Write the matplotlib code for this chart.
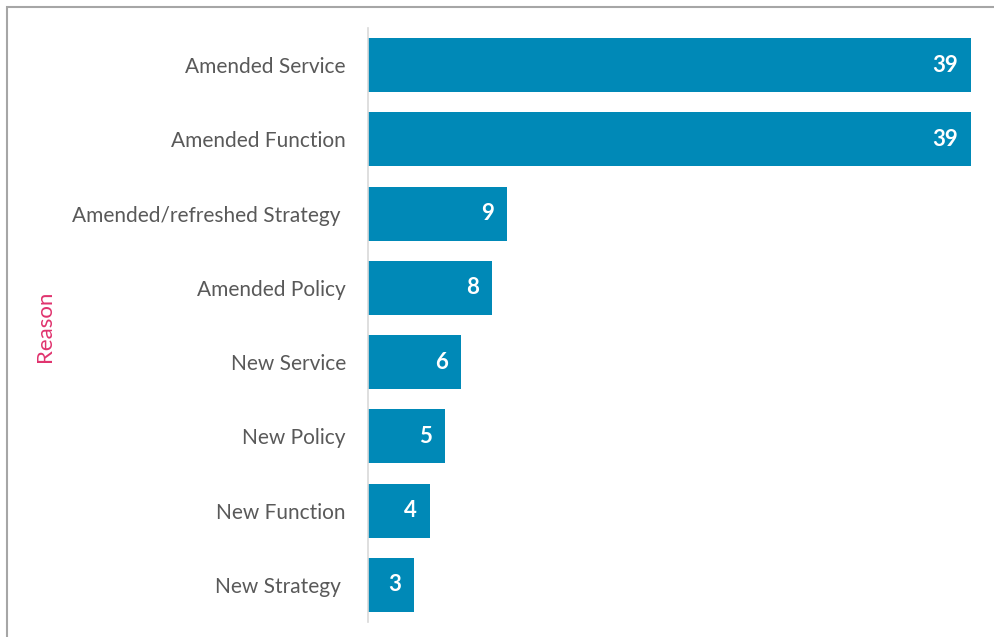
import matplotlib
matplotlib.use("Agg")
import matplotlib.pyplot as plt
from matplotlib.patches import Rectangle

categories = ["Amended Service", "Amended Function", "Amended/refreshed Strategy ",
              "Amended Policy", "New Service", "New Policy", "New Function", "New Strategy "]
values = [39, 39, 9, 8, 6, 5, 4, 3]

plt.rcParams['font.family'] = ['Lato', 'DejaVu Sans']

fig = plt.figure(figsize=(9.94, 6.37), dpi=100)
ax = fig.add_axes([368/994, 1-622/637, (971-368)/994, (622-28)/637])

bar_color = "#0089B7"
ypos = list(range(len(categories)))
ax.barh(ypos, values, height=0.73, color=bar_color)
ax.set_ylim(len(categories) - 0.5, -0.5)
ax.set_xlim(0, 39)

for y, v in zip(ypos, values):
    ax.annotate(str(v), xy=(v, y), xytext=(-13, 0), textcoords="offset pixels",
                ha="right", va="center", color="white", fontsize=16, fontweight="bold")

ax.set_yticks(ypos)
ax.set_yticklabels(categories, fontsize=15, color="#595959")
ax.tick_params(axis="y", length=0, pad=16)
ax.set_xticks([])
for s in ["top", "right", "bottom"]:
    ax.spines[s].set_visible(False)
ax.spines["left"].set_color("#D9D9D9")
ax.spines["left"].set_linewidth(1.2)

fig.text(45/994, 1-326/637, "Reason", rotation=90, ha="center", va="center",
         color="#E0336E", fontsize=16)

fig.patches.append(Rectangle((7/994, -0.1), 1.2, 1-7/637+0.1, transform=fig.transFigure,
                             fill=False, edgecolor="#A6A6A6", linewidth=1.5))

fig.savefig("out.png", dpi=100)
